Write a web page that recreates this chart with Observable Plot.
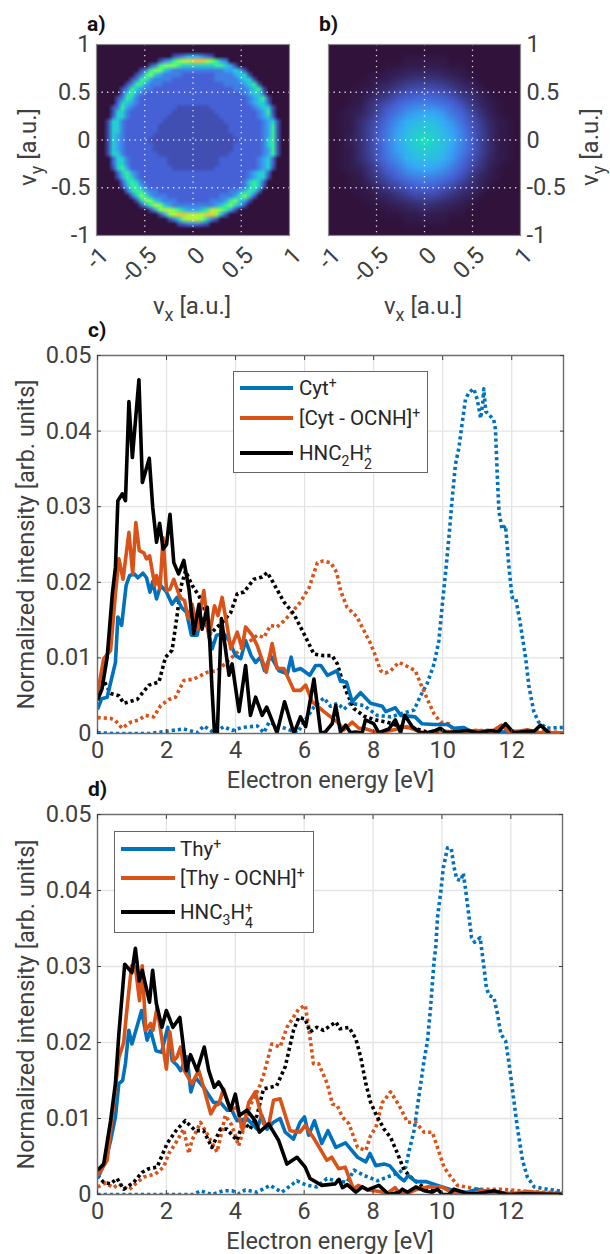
<!DOCTYPE html>
<html><head><meta charset="utf-8">
<script src="https://cdn.jsdelivr.net/npm/d3@7"></script>
<script src="https://cdn.jsdelivr.net/npm/@observablehq/plot@0.6"></script>
<style>
html,body{margin:0;padding:0;background:#fff}
#page{position:relative;width:610px;height:1254px;overflow:hidden;font-family:Roboto,sans-serif;color:#404040}
#page>div{position:absolute}
.plot{left:0}
.tag{font-weight:700;font-size:21px;color:#111}
.lab{font-size:24px;white-space:nowrap;transform:translate(-50%,-50%)}
.lab sub{font-size:18px;vertical-align:-7px;line-height:0}
.lab.rot{transform:translate(-50%,-50%) rotate(-90deg)}
.legend{border:1.3px solid #666;background:#fff;box-sizing:border-box;color:#262626;font-size:20.5px}
.legend .sw{position:absolute;height:3.6px}
.legend .tx{position:absolute;white-space:nowrap;line-height:24px}
.legend sup,.legend sub{font-size:14px;line-height:0}
.legend sup{vertical-align:7px}.legend sub{vertical-align:-6px}
.st{display:inline-block;position:relative;width:10px;height:10px}
.st i{position:absolute;left:0;font-style:normal;font-size:14px;line-height:14px}
.st .u{top:-8px}.st .d{top:7px}
</style></head><body><div id="page"></div>
<script>
// ---- heat map a): [first filled column, intensity classes] per row, top row first (41 x 41 cells)
const mapA = [
[0,""],[0,""],
[16,"123444321"],
[13,"134678899987643"],
[11,"1367776555555566541"],
[9,"13677543333333333344541"],
[8,"1367543333222222233334551"],
[7,"136643333222222222333334551"],
[6,"13664333222222222222233334561"],
[5,"1365433222222222222222223334561"],
[5,"2564322222222222222222222234552"],
[4,"136532222222222222222222222234561"],
[4,"255432222222222222222222222234552"],
[3,"13643222222222111111122222222234551"],
[3,"15532222222221111111112222222223461"],
[3,"25532222222211111111111222222223452"],
[2,"1553222222221111111111111222222223451"],
[2,"1553222222211111111111111122222223461"],
[2,"1553222222211111111111111122222223461"],
[2,"1543222222111111111111111112222223461"],
[2,"1543222221111111111111111111222223561"],
[2,"1543222222111111111111111112222223561"],
[2,"1543222222111111111111111112222223461"],
[2,"1553222222211111111111111122222223461"],
[3,"25532222222211111111111222222223452"],
[3,"25532222222211111111111222222223452"],
[3,"15642222222221111111112222222223451"],
[4,"256432222222222222222222222234552"],
[4,"146532222222222222222222222234551"],
[5,"2565322222222222222222222235652"],
[5,"1466432222222222222222222235651"],
[6,"25664332222222222222223345652"],
[7,"257643332222222222233346752"],
[8,"1577543332222222333467541"],
[9,"14687543333333334567541"],
[11,"1478876544456887641"],
[13,"147899888899741"],
[15,"13578887531"],
[17,"1233321"],
[0,""],[0,""]];
// colour position of each intensity class in panel a)
const mapLevels = [0,8.5,11,15.5,21,29,37,45,53,64];
// ---- heat map b): intensity percent per cell, top row first (21 x 21 cells)
const mapB = [
[0,0,0,0,0,0,0,0,0,0,0,0,0,0,0,0,0,0,0,0,0],
[0,0,0,0,0,0,0,0,1,1,1,1,1,0,0,0,0,0,0,0,0],
[0,0,0,0,0,0,1,1,2,2,2,2,2,1,1,0,0,0,0,0,0],
[0,0,0,0,1,1,2,3,4,5,5,5,4,3,2,1,0,0,0,0,0],
[0,0,0,1,1,3,4,6,8,9,9,9,8,6,4,3,1,0,0,0,0],
[0,0,1,1,3,5,7,10,12,13,14,13,12,10,7,5,3,1,0,0,0],
[0,0,1,2,5,8,11,14,17,19,20,19,17,14,11,7,4,2,1,0,0],
[0,1,2,3,6,10,14,18,23,26,28,27,24,18,14,10,6,3,1,0,0],
[0,1,2,5,8,12,17,23,29,31,33,32,28,23,17,12,8,4,2,1,0],
[0,1,2,5,9,13,19,26,31,35,36,35,31,26,20,13,9,5,2,1,0],
[0,1,3,5,9,14,20,27,33,37,42,36,33,28,21,14,9,5,2,1,0],
[0,1,2,5,9,13,20,26,31,35,36,35,32,26,20,14,9,5,2,1,0],
[0,1,2,5,8,13,18,23,29,32,33,32,30,24,17,12,8,4,2,1,0],
[0,1,2,3,6,10,14,18,24,27,28,27,24,19,14,10,6,3,1,0,0],
[0,0,1,2,5,8,11,14,18,20,21,20,18,14,11,7,4,2,1,0,0],
[0,0,1,1,3,5,8,10,12,14,15,14,12,10,7,5,3,1,0,0,0],
[0,0,0,1,1,3,4,6,8,10,10,10,8,6,4,3,1,0,0,0,0],
[0,0,0,0,1,1,2,3,4,5,6,5,4,3,2,1,0,0,0,0,0],
[0,0,0,0,0,0,1,1,2,2,3,2,2,1,1,0,0,0,0,0,0],
[0,0,0,0,0,0,0,0,1,1,1,1,1,0,0,0,0,0,0,0,0],
[0,0,0,0,0,0,0,0,0,0,0,0,0,0,0,0,0,0,0,0,0]];
const mapTicks = [-1,-0.5,0,0.5,1];
const heatDomain = [0,11.1,22.2,33.3,44.4,55.6,66.7,77.8,88.9,100];
const heatColors = ["#30123b","#4662d7","#36aaf9","#1ae4b6","#72fe5e","#c8ef34","#faba39","#f66b19","#cb2a04","#7a0403"];

// ---- spectra c): [energy eV, intensity]
const cytParent = [[0,.0032],[.12,.0046],[.28,.0048],[.52,.0094],[.59,.0154],[.7,.0143],[.83,.0196],[.93,.0209],[1.07,.0211],[1.17,.0206],[1.32,.0212],[1.42,.0206],[1.52,.0187],[1.6,.0201],[1.71,.0178],[1.83,.0196],[2,.0187],[2.16,.0171],[2.3,.018],[2.43,.0167],[2.58,.016],[2.72,.013],[2.89,.013],[2.98,.0154],[3.18,.0141],[3.32,.0112],[3.45,.013],[3.66,.0132],[3.81,.0123],[4,.0103],[4.15,.0099],[4.29,.0123],[4.45,.0103],[4.58,.0094],[4.72,.0101],[4.84,.0083],[5.01,.0103],[5.26,.0083],[5.5,.0079],[5.61,.0101],[5.69,.0083],[5.88,.0086],[6.15,.0077],[6.32,.009],[6.47,.009],[6.66,.0077],[6.94,.0083],[7.04,.0069],[7.21,.0068],[7.38,.0042],[7.62,.0054],[7.91,.004],[8.25,.0036],[8.35,.0029],[8.63,.0034],[8.78,.0024],[9.2,.0022],[9.4,.0013],[9.74,.0012],[10.13,.0012],[10.32,.0007],[10.6,.0008],[10.9,.0001],[11.3,.0004],[11.7,.0002],[12.1,.0003],[12.45,.0001],[13.1,.0001]];
const cytFrag = [[0,.0053],[.18,.0099],[.38,.011],[.52,.0185],[.62,.0231],[.74,.0204],[.91,.0266],[1.02,.0211],[1.11,.0279],[1.21,.0242],[1.34,.0239],[1.42,.0231],[1.51,.0235],[1.66,.0196],[1.71,.0209],[1.81,.0191],[1.9,.0259],[2,.0189],[2.1,.0191],[2.21,.0204],[2.39,.018],[2.52,.0176],[2.63,.0152],[2.74,.0171],[2.89,.0138],[3.08,.0189],[3.23,.0127],[3.39,.0169],[3.49,.0156],[3.61,.018],[3.76,.0141],[3.86,.0112],[4.05,.0134],[4.19,.0112],[4.29,.0141],[4.48,.013],[4.63,.0116],[4.89,.0081],[5.06,.0119],[5.2,.0086],[5.4,.0086],[5.69,.0057],[5.88,.0057],[6.03,.0064],[6.22,.0042],[6.56,.0029],[6.95,.0015],[7.14,.0005],[7.38,.0015],[7.57,.0007],[7.72,.0007],[8.1,.0001],[8.5,.0004],[8.95,.0009],[9.5,0],[9.8,.0004],[10.3,.0002],[10.98,.0004],[11.4,.0002],[11.7,.0011],[11.95,.0001],[12.45,.0005],[12.8,.0001],[13.5,.0001]];
const cytHNC = [[0,.0044],[.13,.0059],[.28,.0101],[.43,.0185],[.52,.022],[.59,.0308],[.72,.0317],[.81,.0308],[.91,.0439],[1.01,.0365],[1.2,.0468],[1.3,.0332],[1.5,.0364],[1.6,.0299],[1.71,.0253],[1.8,.0278],[1.9,.0244],[2,.025],[2.1,.029],[2.21,.0226],[2.35,.0211],[2.5,.0229],[2.65,.0191],[2.79,.0132],[2.94,.0171],[3.03,.0138],[3.18,.0167],[3.25,.0123],[3.32,.0057],[3.39,0],[3.47,0],[3.59,.0152],[3.81,.0077],[3.9,.0092],[4.1,.0029],[4.29,.009],[4.43,.0024],[4.58,.0048],[4.77,.0024],[4.9,.0035],[5.2,.0001],[5.42,.0042],[5.69,0],[5.88,.0022],[6.03,.0009],[6.27,.0072],[6.47,0],[6.6,.0002],[6.8,.0013],[6.9,.0037],[7.04,.0002],[7.19,.0011],[7.33,.0001],[7.48,.0002],[7.67,.0001],[7.76,.0018],[8,.0013],[8.15,.0001],[8.44,.0006],[8.63,.0018],[8.78,.0001],[8.9,.0024],[9.12,.0009],[9.36,.0001],[9.55,.0001],[9.8,.0004],[9.93,.0007],[10.1,.0001],[10.7,.0004],[11.03,.0001],[11.4,.0004],[11.6,.0002],[11.82,.0013],[12.05,.0001],[12.45,.0003],[12.65,.0003],[12.83,.0011],[13.1,0]];
const cytParentDot = [[0,.0001],[.5,0],[1,0],[1.5,0],[2,.0003],[2.5,.0006],[2.89,.0001],[3.08,.001],[3.37,.0001],[3.66,.0009],[3.9,.0004],[4.19,.0008],[4.63,.001],[4.82,.0001],[4.97,.0015],[5.3,.0009],[5.79,.0001],[6.08,.0022],[6.27,.0035],[6.56,.0047],[6.75,.0036],[6.95,.004],[7.14,.0032],[7.33,.004],[7.72,.0037],[8.1,.0024],[8.5,.0022],[8.78,.0026],[9.17,.0031],[9.36,.005],[9.55,.0066],[9.75,.0092],[9.89,.0123],[9.99,.0171],[10.08,.0211],[10.18,.0259],[10.27,.0308],[10.37,.0356],[10.47,.0378],[10.56,.0409],[10.66,.0442],[10.76,.0451],[10.9,.0456],[11,.0442],[11.1,.0417],[11.16,.0437],[11.19,.0456],[11.25,.0426],[11.48,.0415],[11.53,.0402],[11.58,.0343],[11.63,.0294],[11.72,.027],[11.82,.0275],[11.92,.022],[12.01,.018],[12.11,.018],[12.25,.0145],[12.4,.0101],[12.5,.0062],[12.64,.0029],[12.78,.0015],[13,.0007],[13.5,.0008]];
const cytFragDot = [[0,.0021],[.38,.002],[.52,.0017],[.71,.0007],[.96,.0015],[1.2,.0018],[1.39,.0024],[1.63,.0022],[1.83,.0037],[2.07,.0045],[2.26,.0048],[2.5,.007],[2.79,.0072],[3.18,.0081],[3.47,.0083],[3.95,.0103],[4.3,.0118],[4.63,.013],[4.82,.0127],[5.01,.0143],[5.2,.0141],[5.4,.0149],[5.59,.0158],[5.88,.0174],[6.13,.0193],[6.37,.0226],[6.52,.0228],[6.76,.0226],[6.93,.0213],[7.04,.0189],[7.23,.0167],[7.52,.0154],[7.72,.0136],[7.91,.0119],[8.05,.0103],[8.2,.0083],[8.34,.008],[8.49,.0083],[8.73,.0094],[8.92,.009],[9.21,.0083],[9.36,.0066],[9.55,.0046],[9.75,.0026],[9.94,.0015],[10.18,.0013],[10.32,.0004],[11,.0004],[11.7,.0004],[12.25,.0002],[12.8,.0003],[13.5,.0001]];
const cytHNCDot = [[0,.0059],[.18,.007],[.38,.0053],[.62,.005],[.76,.004],[1.15,.0045],[1.49,.0064],[1.78,.0068],[1.97,.0101],[2.16,.011],[2.3,.0154],[2.41,.0193],[2.55,.0215],[2.74,.0196],[2.94,.0182],[3.08,.0167],[3.28,.0132],[3.47,.0141],[3.66,.0149],[3.86,.016],[4.05,.0185],[4.24,.0187],[4.53,.0204],[4.77,.0207],[4.92,.0213],[5.11,.0198],[5.4,.0174],[5.69,.0158],[5.98,.0132],[6.27,.0105],[6.56,.0103],[6.8,.0103],[6.95,.0092],[7.09,.007],[7.23,.0053],[7.43,.0033],[7.72,.0023],[8.05,.0018],[8.39,.0015],[8.78,.0009],[9.17,.0007],[9.55,.0002],[10.1,.0002]];
// ---- spectra d)
const thyParent = [[0,.0021],[.23,.0043],[.38,.0071],[.52,.0102],[.62,.0146],[.73,.015],[.81,.0172],[.91,.0216],[1,.0198],[1.28,.0242],[1.44,.0203],[1.54,.0216],[1.7,.0189],[1.86,.0187],[2.04,.022],[2.17,.0176],[2.31,.017],[2.41,.0163],[2.6,.0181],[2.71,.0135],[2.84,.0154],[3.08,.0141],[3.37,.0121],[3.57,.0121],[3.76,.0111],[3.9,.0111],[4.05,.0097],[4.34,.01],[4.63,.0086],[4.77,.0104],[4.92,.0086],[5.11,.0095],[5.3,.01],[5.45,.0082],[5.69,.0073],[5.88,.0095],[6.01,.0102],[6.13,.0078],[6.3,.0097],[6.51,.0067],[6.69,.0084],[6.92,.0062],[7.2,.0068],[7.55,.0049],[7.79,.0043],[7.91,.0054],[8.08,.0038],[8.32,.004],[8.48,.0038],[8.76,.0023],[8.9,.0018],[9.02,.0025],[9.24,.0017],[9.53,.0017],[9.87,.0012],[10.35,.0005],[10.74,.0003],[11.03,.0007],[11.5,.0002],[12,.0001],[13.5,.0001]];
const thyFrag = [[0,.0025],[.28,.0045],[.62,.018],[.76,.02],[.86,.0246],[.99,.0301],[1.1,.0299],[1.22,.0255],[1.3,.0301],[1.4,.0216],[1.54,.0225],[1.61,.0216],[1.73,.0246],[2,.0165],[2.1,.0214],[2.21,.0176],[2.31,.0181],[2.41,.0194],[2.52,.0163],[2.74,.0146],[2.94,.0163],[3.08,.0141],[3.29,.0106],[3.42,.0117],[3.52,.0119],[3.66,.0139],[3.86,.0111],[4.05,.0115],[4.21,.0084],[4.39,.0121],[4.58,.0135],[4.82,.0093],[4.97,.0091],[5.11,.0124],[5.3,.0126],[5.59,.0084],[5.88,.0082],[6.03,.0091],[6.32,.0071],[6.66,.0045],[6.8,.0049],[7,.0034],[7.19,.0036],[7.43,.0007],[7.57,.0012],[7.86,.0006],[8.2,.0004],[8.4,.0001],[8.64,.0009],[8.78,.0001],[9.07,.0003],[9.29,.0007],[9.58,.001],[10,.001],[10.35,.0001],[10.9,0],[11.13,.0005],[11.5,.0004],[12,.0001],[12.48,.0004],[13.5,0]];
const thyHNC = [[0,.0032],[.18,.004],[.38,.0097],[.52,.0146],[.62,.0211],[.79,.0303],[1,.0292],[1.1,.0324],[1.21,.0281],[1.3,.0295],[1.51,.0253],[1.6,.0295],[1.71,.0251],[1.87,.022],[2,.0242],[2.19,.022],[2.39,.0233],[2.58,.0163],[2.7,.0184],[2.89,.0163],[3.1,.0194],[3.23,.0163],[3.39,.0141],[3.52,.0148],[3.66,.0137],[3.86,.0111],[4,.0132],[4.12,.0104],[4.34,.0111],[4.58,.0097],[4.7,.0082],[4.97,.0093],[5.26,.0071],[5.5,.004],[5.79,.0049],[6.03,.0036],[6.17,.0021],[6.51,.0012],[6.9,.0014],[7.01,.002],[7.11,.0009],[7.25,.0013],[7.5,.0003],[7.69,.001],[7.84,.0006],[8.17,.0012],[8.46,0],[8.76,.0003],[8.85,.0007],[9,.0003],[9.24,.001],[9.48,.0005],[9.72,.0003],[9.87,.0007],[10.02,0],[10.2,0],[10.35,.0007],[10.74,.0001],[11.03,.0001],[11.51,.0005],[11.9,0],[12.4,.0001],[13.5,0]];
const thyParentDot = [[0,0],[1,0],[2,0],[2.79,0],[2.99,.0005],[3.32,0],[3.66,.0005],[3.9,.0005],[4.1,.0001],[4.29,.0006],[4.63,.0003],[5.01,.0012],[5.35,.0003],[5.79,.0018],[6.08,.0012],[6.37,.001],[6.66,.0021],[6.95,.0018],[7.24,.0016],[7.45,.0032],[7.74,.0025],[8.13,.0018],[8.42,.0023],[8.76,.0029],[8.95,.0036],[9.05,.0058],[9.19,.0084],[9.34,.0132],[9.48,.0176],[9.58,.0202],[9.67,.0246],[9.77,.0307],[9.82,.0325],[9.87,.0364],[9.97,.04],[10.04,.043],[10.16,.0456],[10.27,.0455],[10.35,.0431],[10.43,.0415],[10.55,.0413],[10.62,.0423],[10.69,.04],[10.79,.0364],[10.86,.0338],[10.95,.0332],[11.11,.0338],[11.22,.0299],[11.29,.0272],[11.37,.0262],[11.51,.0259],[11.61,.0238],[11.71,.0211],[11.85,.0202],[11.95,.0172],[12.05,.0137],[12.19,.0088],[12.34,.0045],[12.48,.0023],[12.68,.001],[13.06,.0007],[13.5,.0004]];
const thyFragDot = [[0,.001],[.23,.0015],[.47,.0009],[.62,.0014],[.91,.0006],[1.1,.0014],[1.34,.0023],[1.68,.0027],[1.92,.0036],[2.07,.0054],[2.26,.0067],[2.5,.0086],[2.65,.0054],[2.74,.0071],[2.99,.0095],[3.18,.008],[3.47,.0056],[3.57,.0075],[3.71,.0104],[3.9,.0091],[4.1,.0064],[4.24,.0086],[4.43,.0117],[4.68,.0139],[4.82,.0157],[5.06,.0198],[5.3,.0194],[5.5,.022],[5.84,.0244],[6.03,.0249],[6.13,.022],[6.27,.0172],[6.42,.0172],[6.67,.0146],[6.82,.0119],[6.96,.0117],[7.11,.0102],[7.3,.0093],[7.55,.0062],[7.79,.0058],[7.93,.0078],[8.08,.0088],[8.27,.0121],[8.51,.0135],[8.76,.0117],[9,.0095],[9.24,.0095],[9.48,.0082],[9.72,.0082],[9.87,.0062],[10.06,.0036],[10.26,.0023],[10.45,.0012],[11.03,.0007],[11.7,.0007],[12.48,.0004],[13.5,.0002]];
const thyHNCDot = [[0,.0025],[.18,.0016],[.38,.0014],[.57,.0021],[.76,.0007],[1.05,.0016],[1.29,.0029],[1.49,.0034],[1.73,.0036],[2.02,.0067],[2.31,.0086],[2.55,.0097],[2.84,.0084],[3.08,.0084],[3.32,.0062],[3.57,.0086],[3.76,.0086],[4.05,.0071],[4.24,.0097],[4.43,.0086],[4.63,.0104],[4.82,.0139],[5.2,.0143],[5.45,.0168],[5.69,.0216],[5.84,.0233],[6.03,.0231],[6.17,.0214],[6.37,.022],[6.56,.0216],[6.92,.0227],[7.04,.0218],[7.3,.022],[7.5,.0205],[7.64,.0181],[7.79,.0146],[7.93,.0121],[8.08,.0106],[8.32,.0086],[8.51,.0075],[8.71,.0054],[8.9,.0032],[9.14,.0021],[9.48,.0009],[9.8,.0004]];
const energyTicks = [0,2,4,6,8,10,12];
const intensityTicks = [0,0.01,0.02,0.03,0.04,0.05];
const blue="#0072bd", red="#d95319", black="#000";

const page = document.getElementById("page");
function place(node, top, cls="plot"){const d=document.createElement("div");d.className=cls;d.style.top=top+"px";d.appendChild(node);page.appendChild(d);return d;}
function html(str, cls, left, top){const d=document.createElement("div");d.className=cls;d.innerHTML=str;d.style.left=left+"px";d.style.top=top+"px";page.appendChild(d);return d;}
const base = {width:610, style:{fontFamily:"Roboto,sans-serif",fontSize:"23.5px",background:"transparent",overflow:"visible"}};
const fmt = d=>String(d);

function heat(values, nw, left, right, side){
  return Plot.plot({...base, height:290, marginLeft:left, marginRight:610-right, marginTop:14, marginBottom:290-205,
    x:{domain:[-1,1]}, y:{domain:[-1,1]},
    color:{type:"linear",domain:heatDomain,range:heatColors},
    marks:[
      Plot.raster(values,{width:nw,height:nw,x1:-1,x2:1,y1:1,y2:-1,fill:d=>d}),
      Plot.gridX([-0.5,0,0.5],{stroke:"#fff",strokeOpacity:.85,strokeWidth:1.3,strokeDasharray:"1.3 4.2"}),
      Plot.gridY([-0.5,0,0.5],{stroke:"#fff",strokeOpacity:.85,strokeWidth:1.3,strokeDasharray:"1.3 4.2"}),
      Plot.frame({stroke:"#8a8a8a",strokeWidth:1.2}),
      Plot.axisX(mapTicks,{anchor:"bottom",tickSize:0,tickPadding:16,dx:8,tickRotate:-45,tickFormat:fmt,label:null,color:"#404040"}),
      Plot.axisY(mapTicks,{anchor:side,tickSize:0,tickPadding:6,tickFormat:fmt,label:null,color:"#404040"})
    ]});
}
const flatA = mapA.flatMap(([s,b])=>[...("0".repeat(s)+b).padEnd(41,"0").slice(0,41)].map(c=>mapLevels[+c]));
place(heat(flatA,41,96,289,"left"),30);
place(heat(mapB.flat().map(v=>v*0.8),21,328,520,"right"),30);

function spectrum(series, top, bottom, right){
  const mt=20;
  const line=(d,c,dot)=>Plot.line(d,{x:"0",y:"1",stroke:c,strokeWidth:3.6,clip:"frame",strokeLinejoin:"round",strokeDasharray:dot?"3.2 3":null,strokeLinecap:"butt"});
  return Plot.plot({...base, height:bottom-top+mt+60, marginLeft:97, marginRight:610-right, marginTop:mt, marginBottom:60,
    x:{domain:[0,13.5]}, y:{domain:[0,0.05]},
    marks:[
      Plot.gridX(energyTicks,{stroke:"#e4e4e4",strokeOpacity:1,strokeWidth:1.3}),
      Plot.gridY(intensityTicks,{stroke:"#e4e4e4",strokeOpacity:1,strokeWidth:1.3}),
      line(series[3],blue,true),line(series[4],red,true),line(series[5],black,true),
      line(series[0],blue),line(series[1],red),line(series[2],black),
      Plot.frame({stroke:"#6e6e6e",strokeWidth:1.4}),
      Plot.axisX(energyTicks,{anchor:"bottom",tickSize:-4,tickPadding:12,tickFormat:fmt,label:"Electron energy [eV]",labelAnchor:"center",labelArrow:"none",labelOffset:54,color:"#404040"}),
      Plot.axisX(energyTicks,{anchor:"top",tickSize:-4,tickFormat:()=>"",label:null,color:"#404040"}),
      Plot.axisY(intensityTicks,{anchor:"left",tickSize:-4,tickPadding:10,tickFormat:fmt,label:"Normalized intensity [arb. units]",labelAnchor:"center",labelArrow:"none",labelOffset:80,color:"#404040"}),
      Plot.axisY(intensityTicks,{anchor:"right",tickSize:-4,tickFormat:()=>"",label:null,color:"#404040"})
    ]});
}
place(spectrum([cytParent,cytFrag,cytHNC,cytParentDot,cytFragDot,cytHNCDot],355,733,563),335);
place(spectrum([thyParent,thyFrag,thyHNC,thyParentDot,thyFragDot,thyHNCDot],814,1194,562),794);

html("a)","tag",87,12); html("b)","tag",319,12); html("c)","tag",88,318); html("d)","tag",88,777);
const vx="v<sub>x</sub> [a.u.]", vy="v<sub>y</sub> [a.u.]";
html(vx,"lab",192,306); html(vx,"lab",423,306);
html(vy,"lab rot",28,147); html(vy,"lab rot",590,147);

function legend(left,top,w,h,swL,swR,txL,rows,entries){
  const b=html("","legend",left,top); b.style.width=w+"px"; b.style.height=h+"px";
  entries.forEach((e,i)=>{
    const s=document.createElement("div");s.className="sw";s.style.cssText=`left:${swL}px;width:${swR-swL}px;top:${rows[i]-1.8}px;background:${e[1]}`;b.appendChild(s);
    const t=document.createElement("div");t.className="tx";t.style.cssText=`left:${txL}px;top:${rows[i]-12}px`;t.innerHTML=e[0];b.appendChild(t);
  });
}
const stack=(u,d)=>`<span class="st"><i class="u">${u}</i><i class="d">${d}</i></span>`;
legend(233,371,195,102,6,59,65,[16,46,81],[["Cyt<sup>+</sup>",blue],["[Cyt - OCNH]<sup>+</sup>",red],["HNC<sub>2</sub>H"+stack("+","2"),black]]);
legend(114,831,200,102,6,60,65,[17,46,80],[["Thy<sup>+</sup>",blue],["[Thy - OCNH]<sup>+</sup>",red],["HNC<sub>3</sub>H"+stack("+","4"),black]]);
</script></body></html>
